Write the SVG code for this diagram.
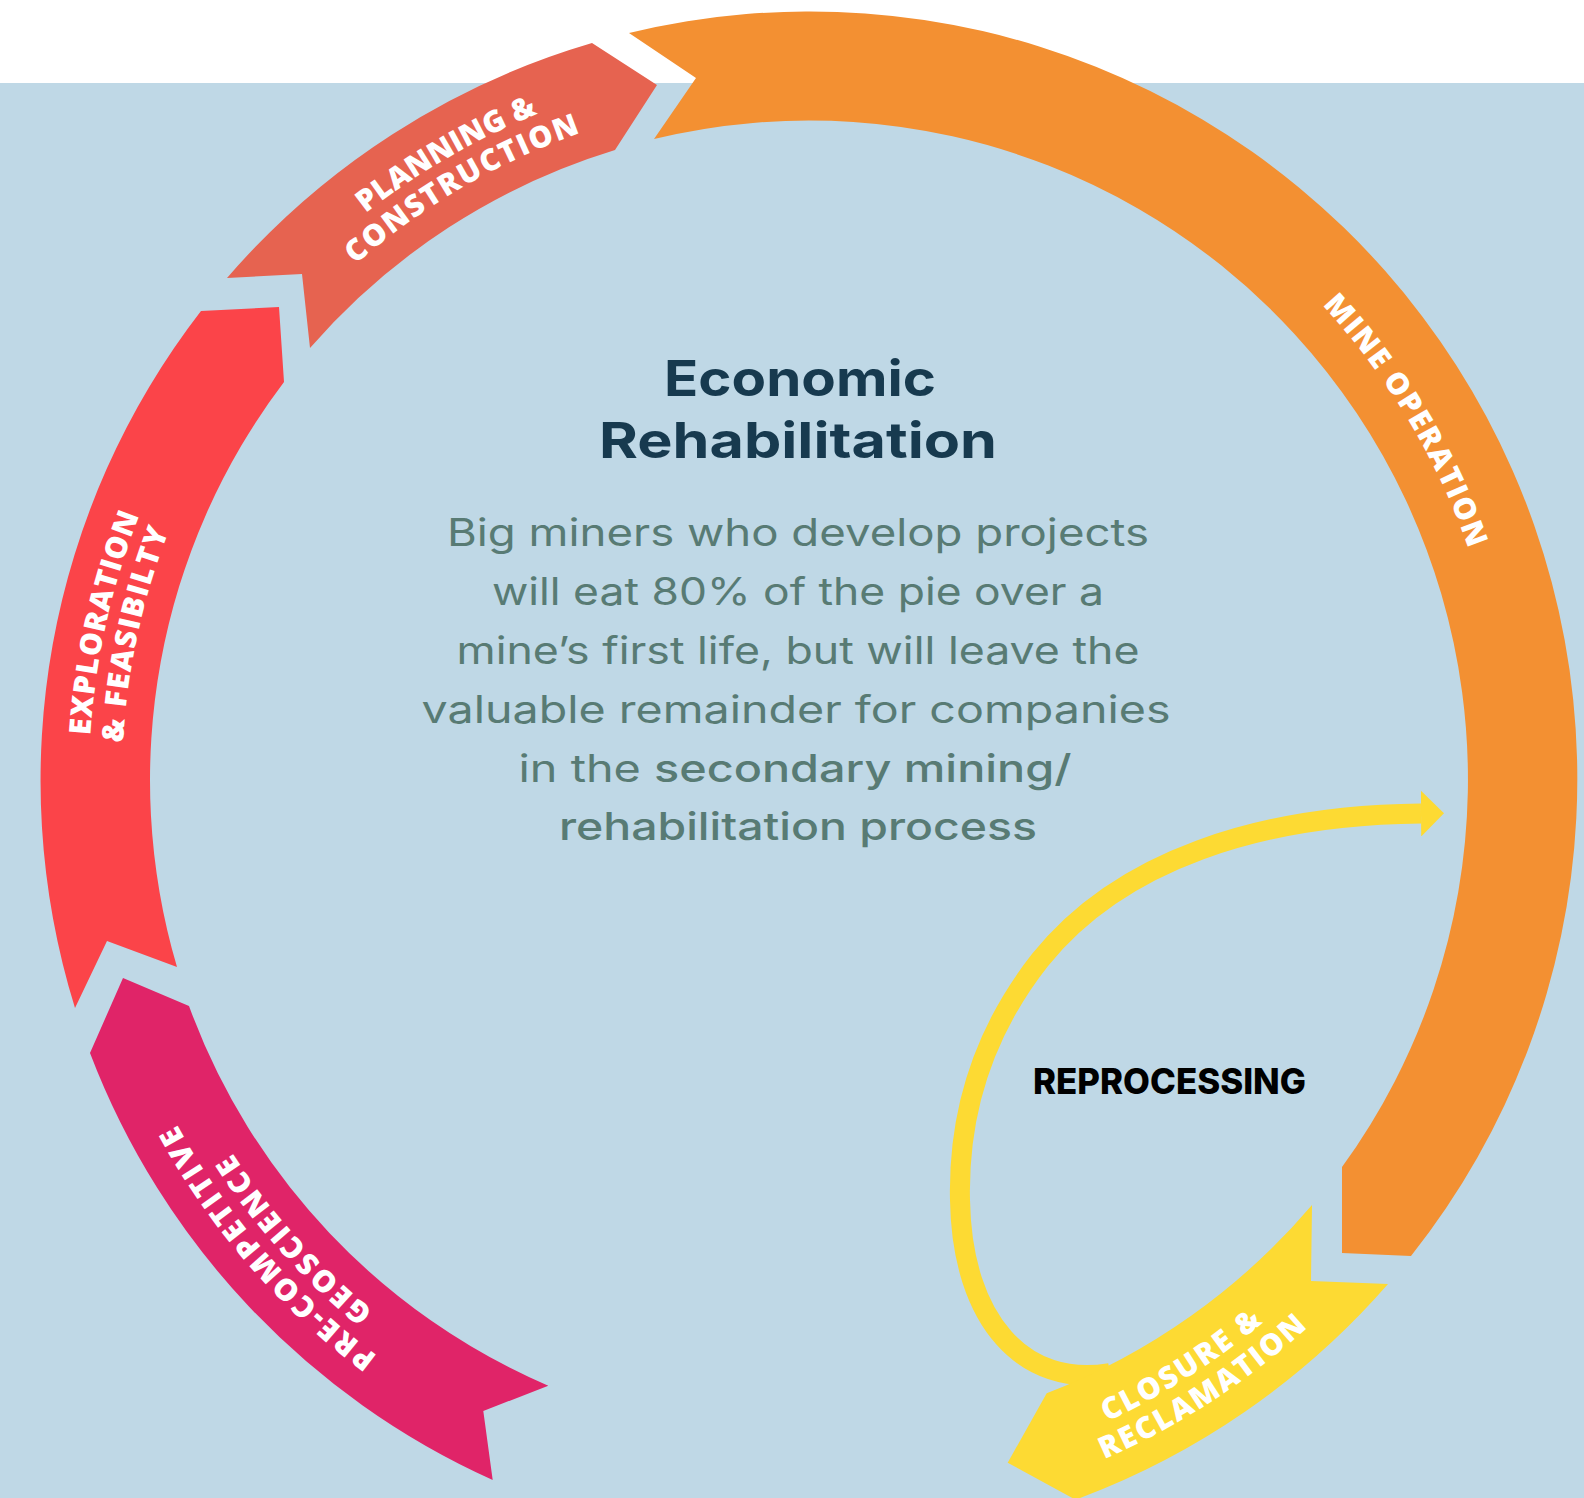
<svg xmlns="http://www.w3.org/2000/svg" width="1584" height="1498" viewBox="0 0 1584 1498">
  <defs>
    <style>
      .band-label { font-family: "Open Sans", "Liberation Sans", sans-serif; font-weight: 800; font-size: 30px; fill: #ffffff; letter-spacing: 0.5px; text-anchor: middle; }
      .title { font-family: Inter, "Liberation Sans", sans-serif; font-weight: 700; font-size: 50px; fill: #173A4F; text-anchor: middle; }
      .body { font-family: Inter, "Liberation Sans", sans-serif; font-weight: 400; font-size: 38px; fill: #587B74; text-anchor: middle; }
      .med { font-weight: 500; }
      .loop-label { font-family: Inter, "Liberation Sans", sans-serif; font-weight: 800; font-size: 35px; fill: #000000; }
      .loop { fill: none; stroke: #FDDA33; stroke-width: 20; }
    </style>
    <!-- baseline arcs centred on angle 0 (to the right of the centre); rotated into place per label -->
    <path id="arc-cw-719" d="M 550.78 -462.17 A 719 719 0 0 1 550.78 462.17"/>
    <path id="arc-cw-686" d="M 525.50 -440.95 A 686 686 0 0 1 525.50 440.95"/>
    <path id="arc-cw-700" d="M 536.23 -449.95 A 700 700 0 0 1 536.23 449.95"/>
    <path id="arc-ccw-708" d="M 542.36 455.10 A 708 708 0 0 0 542.36 -455.10"/>
    <path id="arc-ccw-741" d="M 567.64 476.31 A 741 741 0 0 0 567.64 -476.31"/>
    <marker id="arrowhead" viewBox="0 0 23 46" refX="0" refY="23" markerWidth="23" markerHeight="46" markerUnits="userSpaceOnUse" orient="auto">
      <path d="M 0 0 L 23 23 L 0 46 Z" fill="#FDDA33"/>
    </marker>
  </defs>

  <!-- backdrop -->
  <rect x="0" y="0" width="1584" height="1498" fill="#ffffff"/>
  <rect x="0" y="83" width="1584" height="1415" fill="#BFD8E6"/>

  <!-- reprocessing loop -->
  <g id="connectors">
    <path class="loop" d="M 1110 1373 C 1025 1388, 962 1322, 960 1200 C 958 1110, 985 1030, 1040 960 C 1120 860, 1260 815, 1421 813.5" marker-end="url(#arrowhead)"/>
  </g>

  <g id="pre-competitive-geoscience">
    <path fill="#E02468" d="M 492.7 1480 A 767.5 767.5 0 0 1 90 1053 L 123 978 L 189 1006 A 659 659 0 0 0 548.3 1385.7 L 483.3 1411 Z"/>
    <text class="band-label" transform="translate(808 780) rotate(139.1)"><textPath href="#arc-cw-719" startOffset="50%" textLength="309" lengthAdjust="spacing">PRE-COMPETITIVE</textPath></text>
    <text class="band-label" transform="translate(808 780) rotate(138.2)"><textPath href="#arc-cw-686" startOffset="50%" textLength="213" lengthAdjust="spacing">GEOSCIENCE</textPath></text>
  </g>

  <g id="exploration-feasibility">
    <path fill="#FB4449" d="M 75 1008 A 767.5 767.5 0 0 1 201 311 L 279 307 L 284 382 A 659 659 0 0 0 177 967 L 107 941 Z"/>
    <text class="band-label" transform="translate(808 780) rotate(192.6)"><textPath href="#arc-cw-719" startOffset="50%" textLength="227" lengthAdjust="spacing">EXPLORATION</textPath></text>
    <text class="band-label" transform="translate(808 780) rotate(192.2)"><textPath href="#arc-cw-686" startOffset="50%" textLength="218" lengthAdjust="spacing">&amp; FEASIBILTY</textPath></text>
  </g>

  <g id="planning-construction">
    <path fill="#E66350" d="M 227 278 A 767.5 767.5 0 0 1 592 43 L 657 85 L 615 150 A 659 659 0 0 0 310 348 L 302 274 Z"/>
    <text class="band-label" transform="translate(808 780) rotate(240)"><textPath href="#arc-cw-719" startOffset="50%" textLength="200" lengthAdjust="spacing">PLANNING &amp;</textPath></text>
    <text class="band-label" transform="translate(808 780) rotate(239.7)"><textPath href="#arc-cw-686" startOffset="50%" textLength="263" lengthAdjust="spacing">CONSTRUCTION</textPath></text>
  </g>

  <g id="mine-operation">
    <path fill="#F39032" d="M 629 33 A 767.5 767.5 0 0 1 1411 1256 L 1342 1253 L 1342 1167 A 659 659 0 0 0 654 139 L 696 78 Z"/>
    <text class="band-label" transform="translate(808 780) rotate(329)"><textPath href="#arc-cw-700" startOffset="50%" textLength="287" lengthAdjust="spacing">MINE OPERATION</textPath></text>
  </g>

  <g id="closure-reclamation">
    <path fill="#FDDA33" d="M 1388 1284 A 767.5 767.5 0 0 1 1075.5 1499.7 L 1007.7 1462.7 L 1046.7 1393.3 A 659 659 0 0 0 1312 1205 L 1311 1281 Z"/>
    <text class="band-label" transform="translate(808 780) rotate(57.5)"><textPath href="#arc-ccw-708" startOffset="50%" textLength="186" lengthAdjust="spacing">CLOSURE &amp;</textPath></text>
    <text class="band-label" transform="translate(808 780) rotate(57)"><textPath href="#arc-ccw-741" startOffset="50%" textLength="244" lengthAdjust="spacing">RECLAMATION</textPath></text>
  </g>

  <g id="reprocessing">
    <text class="loop-label" x="1033" y="1094" textLength="273" lengthAdjust="spacingAndGlyphs">REPROCESSING</text>
  </g>

  <g id="centre-text">
    <text class="title" x="800" y="396" textLength="272" lengthAdjust="spacingAndGlyphs">Economic</text>
    <text class="title" x="798" y="458" textLength="398" lengthAdjust="spacingAndGlyphs">Rehabilitation</text>
    <text class="body" x="798" y="546" textLength="702" lengthAdjust="spacingAndGlyphs">Big miners who develop projects</text>
    <text class="body" x="798" y="605" textLength="612" lengthAdjust="spacingAndGlyphs">will eat 80% of the pie over a</text>
    <text class="body" x="798" y="664" textLength="683" lengthAdjust="spacingAndGlyphs">mine’s first life, but will leave the</text>
    <text class="body" x="796" y="723" textLength="749" lengthAdjust="spacingAndGlyphs">valuable remainder for companies</text>
    <text class="body" x="795" y="782" textLength="553" lengthAdjust="spacingAndGlyphs">in the <tspan class="med">secondary mining/</tspan></text>
    <text class="body med" x="798" y="840" textLength="478" lengthAdjust="spacingAndGlyphs">rehabilitation process</text>
  </g>
</svg>
